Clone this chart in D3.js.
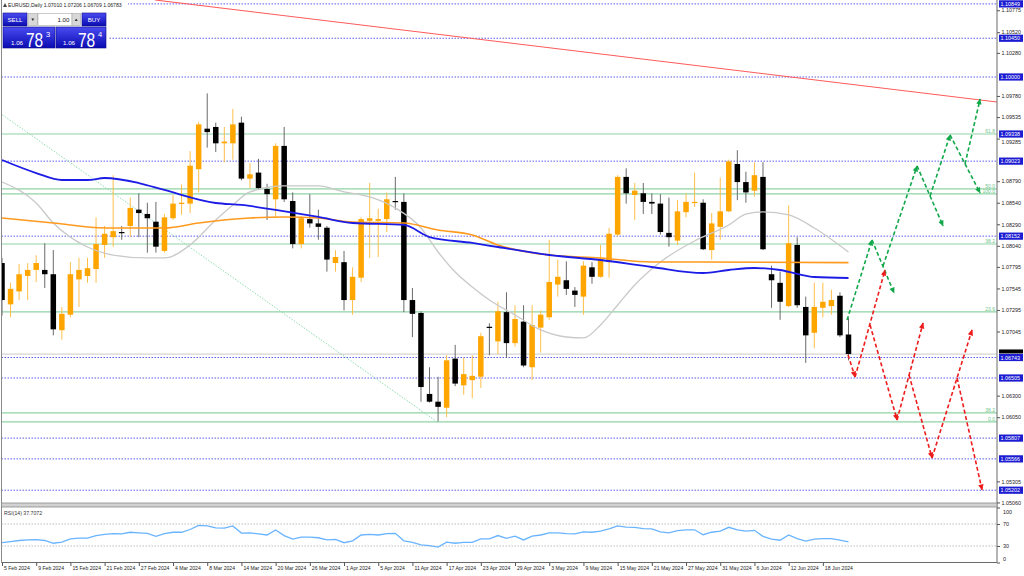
<!DOCTYPE html>
<html>
<head>
<meta charset="utf-8">
<script src="https://cdn.jsdelivr.net/npm/d3@7"></script>
<style>
  html, body { margin: 0; padding: 0; background: #fff; }
  svg { display: block; font-family: "Liberation Sans", Arial, sans-serif; }
</style>
</head>
<body>
<svg id="chart" width="1024" height="576"></svg>
<script>
// ---- Data: EURUSD daily, 5 Feb 2024 .. 21 Jun 2024 (bar index 0..99) ----
const open = [1.0784,1.0736,1.0751,1.0769,1.0776,1.0776,1.0771,1.0706,1.0724,1.0765,
  1.0769,1.0777,1.0805,1.0814,1.0820,1.0827,1.0846,1.0841,1.0832,1.0798,
  1.0836,1.0853,1.0853,1.0893,1.0940,1.0942,1.0923,1.0923,1.0947,1.0882,
  1.0889,1.0870,1.0858,1.0920,1.0856,1.0806,1.0835,1.0830,1.0825,1.0784,
  1.0785,1.0741,1.0767,1.0833,1.0833,1.0835,1.0856,1.0855,1.0741,1.0726,
  1.0632,1.0623,1.0616,1.0673,1.0642,1.0648,1.0652,1.0710,1.0693,1.0727,
  1.0691,1.0716,1.0663,1.0709,1.0721,1.0759,1.0764,1.0752,1.0745,1.0779,
  1.0768,1.0785,1.0817,1.0884,1.0863,1.0865,1.0855,1.0853,1.0819,1.0810,
  1.0843,1.0854,1.0854,1.0799,1.0826,1.0844,1.0899,1.0878,1.0868,1.0884,
  1.0771,1.0761,1.0734,1.0805,1.0733,1.0703,1.0732,1.0734,1.0746,1.07010];
const high = [1.0790,1.0761,1.0783,1.0784,1.0793,1.0807,1.0799,1.0733,1.0785,1.0790,
  1.0790,1.0837,1.0827,1.0886,1.0827,1.0860,1.0865,1.0854,1.0855,1.0841,
  1.0863,1.0875,1.0914,1.0948,1.0981,1.0947,1.0942,1.0963,1.0954,1.0900,
  1.0905,1.0876,1.0923,1.0942,1.0866,1.0839,1.0864,1.0846,1.0827,1.0799,
  1.0798,1.0779,1.0837,1.0877,1.0847,1.0866,1.0884,1.0865,1.0755,1.0728,
  1.0663,1.0652,1.0677,1.0689,1.0674,1.0677,1.0703,1.0714,1.0739,1.0750,
  1.0735,1.0735,1.0735,1.0729,1.0811,1.0788,1.0786,1.0756,1.0786,1.0785,
  1.0805,1.0825,1.0886,1.0894,1.0877,1.0877,1.0865,1.0864,1.0860,1.0857,
  1.0865,1.0889,1.0858,1.0842,1.0883,1.0904,1.0915,1.0890,1.0901,1.0901,
  1.0781,1.0774,1.0851,1.0814,1.0745,1.0761,1.0761,1.0753,1.0750,1.07206];
const low = [1.0723,1.0721,1.0741,1.0741,1.0762,1.0755,1.0700,1.0695,1.0721,1.0733,
  1.0761,1.0761,1.0790,1.0803,1.0811,1.0814,1.0814,1.0796,1.0796,1.0796,
  1.0834,1.0840,1.0842,1.0866,1.0918,1.0913,1.0901,1.0904,1.0880,1.0871,
  1.0869,1.0834,1.0837,1.0855,1.0801,1.0801,1.0825,1.0811,1.0774,1.0774,
  1.0729,1.0724,1.0762,1.0790,1.0791,1.0820,1.0846,1.0727,1.0698,1.0623,
  1.0622,1.0600,1.0605,1.0641,1.0631,1.0627,1.0639,1.0677,1.0678,1.0674,
  1.0687,1.0663,1.0648,1.0680,1.0718,1.0745,1.0747,1.0733,1.0724,1.0760,
  1.0767,1.0767,1.0815,1.0853,1.0834,1.0841,1.0841,1.0817,1.0803,1.0805,
  1.0837,1.0849,1.0799,1.0788,1.0811,1.0843,1.0857,1.0854,1.0861,1.0799,
  1.0732,1.0718,1.0733,1.0732,1.0668,1.0685,1.0721,1.0724,1.0698,1.06709];
const close = [1.0741,1.0754,1.0771,1.0776,1.0784,1.0771,1.0707,1.0725,1.0771,1.0776,
  1.0778,1.0806,1.0818,1.0821,1.0819,1.0848,1.0842,1.0836,1.0803,1.0837,
  1.0853,1.0854,1.0897,1.0945,1.0936,1.0923,1.0925,1.0945,1.0882,1.0887,
  1.0871,1.0864,1.0920,1.0858,1.0806,1.0836,1.0830,1.0826,1.0788,1.0791,
  1.0741,1.0768,1.0835,1.0836,1.0835,1.0858,1.0855,1.0741,1.0725,1.0640,
  1.0623,1.0617,1.0671,1.0644,1.0655,1.0653,1.0699,1.0709,1.0728,1.0691,
  1.0719,1.0665,1.0712,1.0724,1.0762,1.0768,1.0754,1.0747,1.0781,1.0768,
  1.0789,1.0818,1.0884,1.0865,1.0868,1.0855,1.0853,1.0820,1.0814,1.0844,
  1.0855,1.0855,1.0800,1.0830,1.0844,1.0902,1.0878,1.0866,1.0886,1.0800,
  1.0764,1.0739,1.0807,1.0735,1.0700,1.0733,1.0739,1.0741,1.0700,1.06783];

// moving averages, read as [bar index, price]
const maBlue = [[0,1.09036],[4,1.08885],[7,1.08804],[10,1.08804],[12,1.08827],[16,1.08769],[19,1.08688],
  [25,1.08537],[28,1.08514],[32,1.08456],[37,1.08375],[41,1.08305],[47,1.08282],[50,1.08142],[55,1.08073],
  [58,1.08026],[64,1.07933],[70,1.07875],[76,1.07794],[82,1.07724],[85,1.07759],[88,1.07782],[91,1.07759],
  [93,1.07713],[95,1.07678],[99,1.07666]];
const maOrange = [[0,1.08363],[6,1.08305],[12,1.08247],[19,1.08247],[23,1.08305],[29,1.08363],[33,1.08375],
  [37,1.08363],[41,1.08317],[47,1.08305],[51,1.08224],[55,1.08166],[58,1.08050],[64,1.07933],[70,1.07899],
  [76,1.07852],[82,1.07852],[99,1.07845]];
const maGray = [[0,1.08781],[4,1.08537],[6,1.08305],[10,1.08026],[13,1.07933],[17,1.07899],[19,1.07899],
  [22,1.08050],[25,1.08340],[27,1.08514],[29,1.08665],[33,1.08735],[37,1.08735],[40,1.08665],[43,1.08607],
  [46,1.08479],[49,1.08247],[51,1.07968],[53,1.07736],[55,1.07562],[57,1.07411],[60,1.07237],[63,1.07063],
  [66,1.06981],[68,1.06970],[70,1.07121],[72,1.07353],[74,1.07585],[77,1.07852],[81,1.08096],[85,1.08282],
  [87,1.08409],[89,1.08433],[92,1.08398],[95,1.08247],[99,1.07968]];

const rsi = [36,38,40,41,41.5,40,35,37,43,44.5, 44.5,49,51,52.5,52,55,54,53,47.5,52.5,
  55,55,60,67.5,66.5,63,62.5,66.5,53.5,54, 52,50,59,49,42.5,46,46,45,41,42,
  36,39.5,50,51,50,52.5,53,39.5,36.5,32, 30.5,28,37,35,36.5,36.5,43,43,49,44,
  48,41,48,50,54,54,52.5,52,55.5,55, 57,61,66.5,64.5,64,61.5,61,55.5,54,58,
  59.5,59.5,50.5,55,57,64,59.5,57,58.5,47.5, 42.5,40.5,50,43.5,39,42.5,43.5,43.5,40.5,37.7];

// horizontal levels
const blueLevels = [1.10849,1.10450,1.10000,1.09023,1.08152,1.06743,1.06505,1.05807,1.05566,1.05202];
const boxLevels  = [1.10849,1.10450,1.10000,1.09338,1.09023,1.08152,1.06743,1.06505,1.05807,1.05566,1.05202];
const fibLabels  = ['61.8','50.0','100.0','38.2','23.6','38.2','0.0'];
const fibPrices  = [1.09338,1.08700,1.08642,1.08061,1.07272,1.06100,1.05995];
const bidPrice = 1.06783;

// trend lines [bar index, price]
const redTrend   = [[17.9,1.10894],[116.4,1.09710]];
const greenDiag  = [[-0.25,1.09582],[50.9,1.05995]];

// projected paths [bar index, price]
const greenArrows = [
  [[98.83,1.07179],[101.75,1.08108]],
  [[101.75,1.08108],[104.33,1.07492]],
  [[103.04,1.07806],[107.02,1.08967]],
  [[107.02,1.08967],[110.06,1.08270]],
  [[108.54,1.08618],[110.88,1.09327]],
  [[110.88,1.09327],[114.39,1.08653]],
  [[112.63,1.08990],[114.39,1.09745]]
];
const redArrows = [
  [[98.95,1.06772],[99.77,1.06517]],
  [[99.77,1.06517],[103.27,1.07759]],
  [[101.52,1.07121],[104.68,1.06018]],
  [[104.68,1.06018],[107.72,1.07144]],
  [[106.08,1.06540],[108.77,1.05577]],
  [[108.77,1.05577],[113.45,1.07063]],
  [[111.70,1.06505],[114.62,1.05205]]
];

// axis ticks (those hidden under the level boxes are left out)
const priceTicks = [1.10775,1.10520,1.10280,1.09780,1.09535,1.09285,1.08790,1.08540,
  1.08290,1.08040,1.07795,1.07545,1.07295,1.07045,1.06300,1.06050,1.05305,1.05060];
const dateIdx = [0,4,8,12,16,20,24,28,32,36,40,44,48,52,56,60,64,68,72,76,80,84,88,92,96];
const dateLabels = ['5 Feb 2024','9 Feb 2024','15 Feb 2024','21 Feb 2024','27 Feb 2024','4 Mar 2024',
  '8 Mar 2024','14 Mar 2024','20 Mar 2024','26 Mar 2024','1 Apr 2024','5 Apr 2024','11 Apr 2024',
  '17 Apr 2024','23 Apr 2024','29 Apr 2024','3 May 2024','9 May 2024','15 May 2024','21 May 2024',
  '27 May 2024','31 May 2024','6 Jun 2024','12 Jun 2024','18 Jun 2024'];
const rsiTicks = [100,70,30,0];

// ---- Layout ----
const PLOT_L = 1.5, PLOT_R = 997, PLOT_T = 0, PLOT_B = 503;
const RSI_T = 507, RSI_B = 562.5;

const svg = d3.select('#chart');
const x = d3.scaleLinear().domain([0, 99]).range([2, 848.5]);
const y = d3.scaleLinear().domain([1.10000, 1.06505]).range([77, 378]);
const yR = d3.scaleLinear().domain([0, 100]).range([RSI_B, 507.5]);

const defs = svg.append('defs');
defs.append('clipPath').attr('id', 'clipMain')
  .append('rect').attr('x', PLOT_L).attr('y', PLOT_T).attr('width', PLOT_R - PLOT_L).attr('height', PLOT_B - PLOT_T);
defs.append('clipPath').attr('id', 'clipRsi')
  .append('rect').attr('x', PLOT_L).attr('y', RSI_T).attr('width', PLOT_R - PLOT_L).attr('height', RSI_B - RSI_T);

const grad = defs.append('linearGradient').attr('id', 'btn').attr('x1', 0).attr('y1', 0).attr('x2', 0).attr('y2', 1);
grad.append('stop').attr('offset', '0%').attr('stop-color', '#4b4bf2');
grad.append('stop').attr('offset', '100%').attr('stop-color', '#0b0bb2');

function marker(id, color) {
  defs.append('marker').attr('id', id).attr('viewBox', '0 0 10 10')
    .attr('refX', 9).attr('refY', 5).attr('markerWidth', 7).attr('markerHeight', 6)
    .attr('markerUnits', 'userSpaceOnUse').attr('orient', 'auto')
    .append('path').attr('d', 'M0,0.5 L10,5 L0,9.5 Z').attr('fill', color);
}
marker('arrG', '#12a84a');
marker('arrR', '#ee1c1c');

svg.append('rect').attr('width', 1024).attr('height', 576).attr('fill', '#fff');

const main = svg.append('g').attr('clip-path', 'url(#clipMain)');
const pLine = d3.line().x(d => x(d[0])).y(d => y(d[1]));

// ---- levels ----
main.append('line')
  .attr('x1', PLOT_L).attr('x2', PLOT_R).attr('y1', y(bidPrice)).attr('y2', y(bidPrice))
  .attr('stroke', '#d4d4d4').attr('stroke-width', 1.2);

main.selectAll('.lvl').data(blueLevels).join('line')
  .attr('x1', PLOT_L).attr('x2', PLOT_R).attr('y1', d => y(d)).attr('y2', d => y(d))
  .attr('stroke', '#5c5cf0').attr('stroke-width', 1).attr('stroke-dasharray', '1.5,1.5');

main.selectAll('.fib').data(fibPrices).join('line')
  .attr('x1', PLOT_L).attr('x2', PLOT_R).attr('y1', d => y(d)).attr('y2', d => y(d))
  .attr('stroke', '#8fd4a4').attr('stroke-width', 1.2);

main.selectAll('.fibt').data(fibPrices).join('text')
  .attr('x', PLOT_R - 2).attr('y', d => y(d) - 1.2)
  .attr('text-anchor', 'end').attr('font-size', 5).attr('fill', '#6cc58a')
  .text((d, i) => fibLabels[i]);

main.append('path').datum(greenDiag).attr('d', pLine)
  .attr('fill', 'none').attr('stroke', '#8fdcae').attr('stroke-width', 1).attr('stroke-dasharray', '1.5,1.5');

// ---- candles ----
const bars = d3.range(open.length);
main.selectAll('.wick').data(bars).join('line')
  .attr('x1', i => x(i)).attr('x2', i => x(i))
  .attr('y1', i => y(high[i])).attr('y2', i => y(low[i]))
  .attr('stroke', i => close[i] >= open[i] ? '#ffbf4a' : '#6a6a6a').attr('stroke-width', 1);

main.selectAll('.body').data(bars).join('rect')
  .attr('x', i => x(i) - 2.75).attr('width', 5.5)
  .attr('y', i => y(Math.max(open[i], close[i])))
  .attr('height', i => Math.max(1.2, Math.abs(y(open[i]) - y(close[i]))))
  .attr('fill', i => close[i] >= open[i] ? '#ffa500' : '#000');

// ---- moving averages ----
const maLine = d3.line().x(d => x(d[0])).y(d => y(d[1])).curve(d3.curveMonotoneX);
main.append('path').datum(maGray).attr('d', maLine).attr('fill', 'none').attr('stroke', '#c9c9c9').attr('stroke-width', 1.3);
main.append('path').datum(maOrange).attr('d', maLine).attr('fill', 'none').attr('stroke', '#ff9a1e').attr('stroke-width', 1.6);
main.append('path').datum(maBlue).attr('d', maLine).attr('fill', 'none').attr('stroke', '#1c1ce6').attr('stroke-width', 1.8);

// ---- trend line + projections ----
main.append('path').datum(redTrend).attr('d', pLine)
  .attr('fill', 'none').attr('stroke', '#ff5a5a').attr('stroke-width', 1.1);

main.selectAll('.ga').data(greenArrows).join('path').attr('d', pLine)
  .attr('fill', 'none').attr('stroke', '#12a84a').attr('stroke-width', 1.6)
  .attr('stroke-dasharray', '4,2.5').attr('marker-end', 'url(#arrG)');
main.selectAll('.ra').data(redArrows).join('path').attr('d', pLine)
  .attr('fill', 'none').attr('stroke', '#ee1c1c').attr('stroke-width', 1.6)
  .attr('stroke-dasharray', '4,2.5').attr('marker-end', 'url(#arrR)');

// ---- frame ----
svg.append('line').attr('x1', PLOT_L).attr('x2', PLOT_L).attr('y1', 0).attr('y2', RSI_B).attr('stroke', '#8a8a8a');
svg.append('line').attr('x1', PLOT_R).attr('x2', PLOT_R).attr('y1', 0).attr('y2', RSI_B).attr('stroke', '#6a6a6a');
svg.append('rect').attr('x', PLOT_L).attr('y', 503).attr('width', PLOT_R - PLOT_L).attr('height', 4)
  .attr('fill', '#d2d2d2').attr('stroke', '#8a8a8a').attr('stroke-width', 0.8);
svg.append('line').attr('x1', PLOT_L).attr('x2', PLOT_R).attr('y1', RSI_B).attr('y2', RSI_B).attr('stroke', '#6a6a6a');

// ---- price axis ----
const yAxis = svg.append('g').attr('transform', `translate(${PLOT_R},0)`)
  .call(d3.axisRight(y).tickValues(priceTicks).tickSize(3).tickPadding(1.5).tickFormat(d3.format('.5f')));
yAxis.select('.domain').remove();
yAxis.selectAll('text').attr('font-size', 5.4).attr('fill', '#222').attr('font-family', '"Liberation Sans", Arial, sans-serif')
  .attr('dy', d => d === 1.09285 ? '0.9em' : '0.32em');
yAxis.selectAll('line').attr('stroke', '#555');

// bid box then level boxes
const boxG = svg.append('g').attr('font-size', 5.4);
boxG.append('rect').attr('x', 999).attr('y', y(bidPrice) - 4.6).attr('width', 24).attr('height', 4).attr('fill', '#000');
boxG.selectAll('.bx').data(boxLevels).join('rect')
  .attr('x', 999).attr('y', d => y(d) - 3.6).attr('width', 24).attr('height', 7.2).attr('fill', '#1c1cd2');
boxG.selectAll('.bt').data(boxLevels).join('text')
  .attr('x', 1000.5).attr('y', d => y(d) + 2).attr('fill', '#fff').text(d => d3.format('.5f')(d));

// ---- RSI panel ----
const rsiG = svg.append('g').attr('clip-path', 'url(#clipRsi)');
rsiG.selectAll('.rl').data([70, 30]).join('line')
  .attr('x1', PLOT_L).attr('x2', PLOT_R).attr('y1', d => yR(d)).attr('y2', d => yR(d))
  .attr('stroke', '#bdbdbd').attr('stroke-dasharray', '1.5,1.5');
rsiG.append('path').datum(rsi)
  .attr('d', d3.line().x((d, i) => x(i)).y(d => yR(d)))
  .attr('fill', 'none').attr('stroke', '#69b4ff').attr('stroke-width', 1.3);
svg.append('text').attr('x', 4).attr('y', 515).attr('font-size', 5.2).attr('fill', '#333').text('RSI(14) 37.7072');

const rAxis = svg.append('g').attr('transform', `translate(${PLOT_R},0)`)
  .call(d3.axisRight(yR).tickValues(rsiTicks).tickSize(3).tickPadding(3).tickFormat(d3.format('d')));
rAxis.select('.domain').remove();
rAxis.selectAll('text').attr('font-size', 5.4).attr('fill', '#222').attr('font-family', '"Liberation Sans", Arial, sans-serif')
  .attr('dy', d => d === 100 ? '1.1em' : d === 0 ? '-0.4em' : '0.32em');
rAxis.selectAll('line').attr('stroke', '#555');

// ---- date axis ----
const xAxis = svg.append('g').attr('transform', `translate(0,${RSI_B})`)
  .call(d3.axisBottom(x).tickValues(dateIdx).tickSize(3.5).tickFormat((d, i) => dateLabels[i]));
xAxis.select('.domain').remove();
xAxis.selectAll('line').attr('stroke', '#555');
xAxis.selectAll('text').attr('text-anchor', 'start').attr('x', 1.5).attr('y', 4.2).attr('dy', '0.71em')
  .attr('font-size', 5.1).attr('fill', '#222').attr('font-family', '"Liberation Sans", Arial, sans-serif');

// ---- title ----
svg.append('rect').attr('x', 2).attr('y', 0).attr('width', 126).attr('height', 9).attr('fill', '#fff');
svg.append('path').attr('d', 'M3,7 L5,3 L7,7 Z').attr('fill', '#444');
svg.append('text').attr('x', 8).attr('y', 7).attr('font-size', 5.1).attr('fill', '#222')
  .text('EURUSD,Daily  1.07010 1.07206 1.06709 1.06783');

// ---- one-click trading panel ----
const pnl = svg.append('g');
pnl.append('rect').attr('x', 2).attr('y', 11).attr('width', 106).attr('height', 39).attr('fill', '#fff');
function btn(bx, by, bw, bh) {
  pnl.append('rect').attr('x', bx).attr('y', by).attr('width', bw).attr('height', bh)
    .attr('fill', 'url(#btn)').attr('stroke', '#0a0a8a').attr('stroke-width', 0.6);
}
btn(3, 13, 24, 13); btn(82, 13, 24, 13); btn(3, 27, 52, 21); btn(56, 27, 50, 21);
pnl.append('rect').attr('x', 28).attr('y', 13.5).attr('width', 9.5).attr('height', 12).attr('fill', '#d8d8d8').attr('stroke', '#9a9a9a').attr('stroke-width', 0.5);
pnl.append('rect').attr('x', 38).attr('y', 13.5).attr('width', 34).attr('height', 12).attr('fill', '#fff').attr('stroke', '#9a9a9a').attr('stroke-width', 0.5);
pnl.append('rect').attr('x', 72).attr('y', 13.5).attr('width', 8.5).attr('height', 12).attr('fill', '#d8d8d8').attr('stroke', '#9a9a9a').attr('stroke-width', 0.5);
pnl.append('path').attr('d', 'M31.3,18.5 L34.3,18.5 L32.8,21 Z').attr('fill', '#333');
pnl.append('path').attr('d', 'M74.7,21 L77.7,21 L76.2,18.5 Z').attr('fill', '#333');
pnl.append('text').attr('x', 69.5).attr('y', 21.8).attr('text-anchor', 'end').attr('font-size', 6.2).attr('fill', '#222').text('1.00');
pnl.append('text').attr('x', 15).attr('y', 22).attr('text-anchor', 'middle').attr('font-size', 6.2).attr('fill', '#fff').text('SELL');
pnl.append('text').attr('x', 94).attr('y', 22).attr('text-anchor', 'middle').attr('font-size', 6.2).attr('fill', '#fff').text('BUY');
function quote(x0, small, big, sup) {
  pnl.append('text').attr('x', x0).attr('y', 45).attr('font-size', 6.2).attr('fill', '#fff').text(small);
  // tall, narrow digits: smaller font stretched vertically
  pnl.append('text').attr('transform', `translate(${x0 + 15},46.5) scale(1,1.35)`)
    .attr('font-size', 15.5).attr('fill', '#fff').text(big);
  pnl.append('text').attr('x', x0 + 35).attr('y', 36.5).attr('font-size', 7.5).attr('fill', '#fff').text(sup);
}
quote(11, '1.06', '78', '3');
quote(63, '1.06', '78', '4');
</script>
</body>
</html>
